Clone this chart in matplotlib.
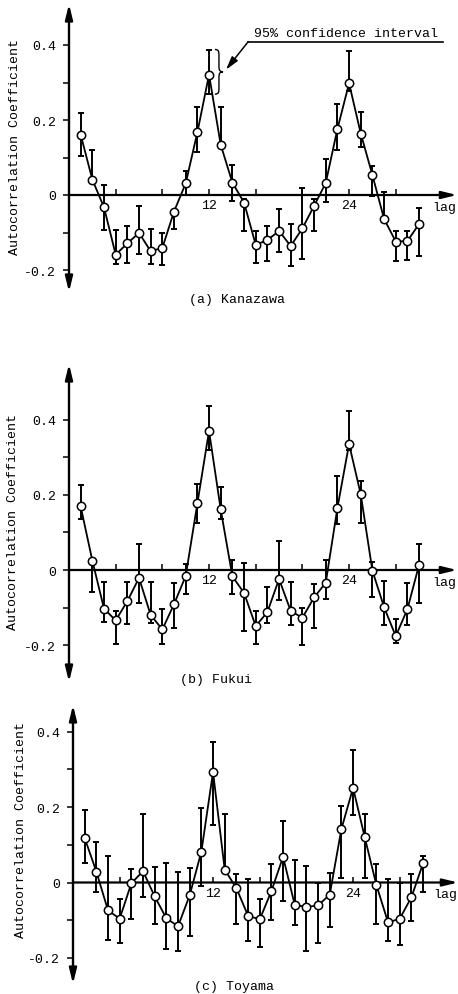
import numpy as np
import matplotlib
matplotlib.use("Agg")
import matplotlib.pyplot as plt
from matplotlib.path import Path
from matplotlib.patches import PathPatch

plt.rcParams['font.family'] = ['Liberation Mono', 'DejaVu Sans Mono']

# lags 1..30
lags = np.arange(1, 31)

# (a) Kanazawa
r_kanazawa = [0.161, 0.041, -0.033, -0.159, -0.129, -0.101, -0.150, -0.141, -0.044, 0.031,
              0.167, 0.321, 0.134, 0.033, -0.020, -0.133, -0.120, -0.096, -0.136, -0.089,
              -0.029, 0.032, 0.176, 0.298, 0.164, 0.053, -0.064, -0.124, -0.123, -0.077]
lo_kanazawa = [0.105, 0.034, -0.093, -0.184, -0.180, -0.157, -0.184, -0.187, -0.091, 0.000,
               0.116, 0.269, 0.127, -0.015, -0.095, -0.180, -0.177, -0.153, -0.190, -0.171,
               -0.096, -0.018, 0.121, 0.278, 0.127, -0.002, -0.070, -0.175, -0.173, -0.162]
hi_kanazawa = [0.220, 0.121, 0.028, -0.094, -0.082, -0.030, -0.091, -0.100, -0.040, 0.065,
               0.236, 0.388, 0.236, 0.081, -0.010, -0.095, -0.082, -0.037, -0.076, 0.018,
               -0.010, 0.097, 0.243, 0.385, 0.222, 0.078, 0.009, -0.095, -0.095, -0.035]

# (b) Fukui
r_fukui = [0.169, 0.025, -0.103, -0.134, -0.083, -0.021, -0.120, -0.158, -0.091, -0.016,
           0.177, 0.370, 0.161, -0.017, -0.061, -0.149, -0.112, -0.024, -0.109, -0.127,
           -0.073, -0.034, 0.165, 0.335, 0.201, -0.002, -0.099, -0.176, -0.104, 0.014]
lo_fukui = [0.135, -0.058, -0.138, -0.196, -0.144, -0.089, -0.140, -0.196, -0.154, -0.065,
            0.125, 0.318, 0.135, -0.065, -0.162, -0.196, -0.140, -0.081, -0.147, -0.200,
            -0.154, -0.076, 0.122, 0.318, 0.126, -0.072, -0.147, -0.194, -0.147, -0.087]
hi_fukui = [0.225, 0.030, -0.032, -0.108, -0.032, 0.068, -0.032, -0.103, -0.034, 0.017,
            0.229, 0.435, 0.222, 0.026, 0.019, -0.109, -0.045, 0.076, -0.032, -0.100,
            -0.036, 0.026, 0.251, 0.422, 0.236, 0.021, -0.030, -0.129, -0.034, 0.070]

# (c) Toyama
r_toyama = [0.118, 0.029, -0.074, -0.096, -0.002, 0.030, -0.037, -0.095, -0.116, -0.034,
            0.082, 0.293, 0.034, -0.015, -0.088, -0.098, -0.023, 0.068, -0.059, -0.065,
            -0.061, -0.032, 0.142, 0.251, 0.120, -0.007, -0.106, -0.096, -0.039, 0.051]
lo_toyama = [0.052, -0.024, -0.153, -0.160, -0.098, -0.039, -0.109, -0.176, -0.182, -0.142,
             -0.008, 0.152, 0.028, -0.109, -0.155, -0.170, -0.099, -0.049, -0.112, -0.181,
             -0.161, -0.119, 0.012, 0.179, 0.012, -0.111, -0.156, -0.166, -0.101, -0.025]
hi_toyama = [0.192, 0.108, 0.071, -0.043, 0.036, 0.181, 0.042, 0.052, 0.027, 0.039,
             0.197, 0.372, 0.182, 0.023, 0.010, -0.043, 0.049, 0.164, 0.060, 0.043,
             -0.001, 0.025, 0.203, 0.352, 0.182, 0.050, 0.010, -0.001, 0.023, 0.069]

titles = ["(a) Kanazawa", "(b) Fukui", "(c) Toyama"]
ylabel = "Autocorrelation Coefficient"
yticks = [-0.2, -0.1, 0, 0.1, 0.2, 0.3, 0.4]
yticklabels = ["-0.2", "", "0", "", "0.2", "", "0.4"]
xticks = [4, 8, 12, 16, 20, 24, 28]
xticklabels = ["", "", "12", "", "", "24", ""]

W, H = 458, 995
FS = 9.5

# pixel layout of each panel: lag-0 x, px per lag, zero y, px per unit, top, bottom, right
layout = [
    dict(x0=69, ppl=11.67, zero=196, ppu=375, top=5, bottom=293, right=457,
         ylab=(15, 147), title=(237, 300)),
    dict(x0=69, ppl=11.67, zero=571, ppu=376, top=365, bottom=683, right=457,
         ylab=(13, 522), title=(216, 680)),
    dict(x0=73, ppl=11.67, zero=883.5, ppu=377, top=706, bottom=985, right=458,
         ylab=(21, 830), title=(234, 987)),
]
series = [(r_kanazawa, lo_kanazawa, hi_kanazawa),
          (r_fukui, lo_fukui, hi_fukui),
          (r_toyama, lo_toyama, hi_toyama)]

fig = plt.figure(figsize=(W / 100, H / 100), dpi=100)


def fx(px):
    return px / W


def fy(py):
    return 1 - py / H


axes = []
for lay, (r, lo, hi), title in zip(layout, series, titles):
    ax = fig.add_axes([fx(lay['x0']), fy(lay['bottom']),
                       (lay['right'] - lay['x0']) / W, (lay['bottom'] - lay['top']) / H])
    xmax = (lay['right'] - lay['x0']) / lay['ppl']
    ymin = (lay['zero'] - lay['bottom']) / lay['ppu']
    ymax = (lay['zero'] - lay['top']) / lay['ppu']
    ax.set_xlim(0, xmax)
    ax.set_ylim(ymin, ymax)
    ax.patch.set_visible(False)
    for s in ax.spines.values():
        s.set_visible(False)
    ax.spines['bottom'].set_position(('data', 0))

    # axis lines with arrow heads
    ax.annotate('', xy=(0, ymax), xytext=(0, ymin), annotation_clip=False,
                arrowprops=dict(arrowstyle='<|-|>,head_length=0.9,head_width=0.22',
                                mutation_scale=10, lw=1.7, color='black',
                                shrinkA=0, shrinkB=0))
    ax.annotate('', xy=(xmax, 0), xytext=(0, 0), annotation_clip=False,
                arrowprops=dict(arrowstyle='-|>,head_length=0.9,head_width=0.22',
                                mutation_scale=10, lw=1.6, color='black',
                                shrinkA=0, shrinkB=0))

    ax.set_yticks(yticks, yticklabels)
    ax.set_xticks(xticks, xticklabels)
    ax.tick_params(axis='y', direction='out', length=4.5, width=1.1, pad=5, labelsize=FS)
    ax.tick_params(axis='x', direction='in', length=4.5, width=1.1, pad=3, labelsize=FS)

    r = np.array(r)
    yerr = [r - np.array(lo), np.array(hi) - r]
    ax.errorbar(lags, r, yerr=yerr, fmt='none', ecolor='black', elinewidth=1.4,
                capsize=2.5, capthick=1.4, zorder=2)
    ax.plot(lags, r, '-', color='black', lw=1.3, zorder=3)
    ax.plot(lags, r, 'o', ms=6, mfc='white', mec='black', mew=1.1, zorder=4)

    ax.text(xmax - 1.1, -12 / lay['ppu'], 'lag', ha='center', va='center', fontsize=FS)

    fig.text(fx(lay['ylab'][0]), fy(lay['ylab'][1]), ylabel, rotation=90,
             ha='center', va='center', fontsize=FS)
    fig.text(fx(lay['title'][0]), fy(lay['title'][1]), title,
             ha='center', va='center', fontsize=FS)
    axes.append(ax)

# confidence interval annotation on panel (a)
ax = axes[0]
top, bot = hi_kanazawa[11], lo_kanazawa[11]
u = [0, 0.5, 0.5, 0.5, 0.5, 0.5, 0.6, 1, 0.6, 0.5, 0.5, 0.5, 0.5, 0.5, 0]
v = [1, 1, 0.95, 0.85, 0.62, 0.54, 0.5, 0.5, 0.5, 0.46, 0.38, 0.15, 0.05, 0, 0]
verts = [(12.5 + a * 0.7, bot + b * (top - bot)) for a, b in zip(u, v)]
codes = ([Path.MOVETO] + [Path.CURVE4] * 3 + [Path.LINETO] + [Path.CURVE4] * 6
         + [Path.LINETO] + [Path.CURVE4] * 3)
ax.add_patch(PathPatch(Path(verts, codes), fc='none', ec='black', lw=1.0))

ax.annotate('', xy=(13.45, 0.334), xytext=(15.36, 0.409), annotation_clip=False,
            arrowprops=dict(arrowstyle='-|>,head_length=0.8,head_width=0.22',
                            mutation_scale=10, lw=1.1, color='black',
                            shrinkA=0, shrinkB=0))
ax.plot([15.36, 32.07], [0.409, 0.409], color='black', lw=1.2)
ax.text(23.7, 0.415, '95% confidence interval', ha='center', va='bottom', fontsize=FS)

fig.savefig('out.png', dpi=100)
